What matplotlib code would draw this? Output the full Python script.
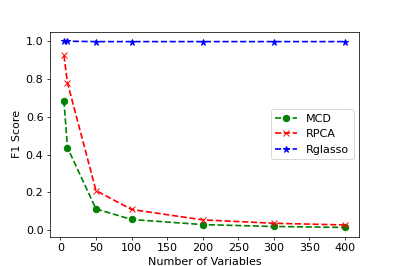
import matplotlib
matplotlib.use("Agg")
import matplotlib.pyplot as plt

plt.rcParams['font.size'] = 12

n_vars = [5, 10, 50, 100, 200, 300, 400]
mcd = [0.685, 0.437, 0.113, 0.057, 0.030, 0.020, 0.015]
rpca = [0.925, 0.780, 0.210, 0.110, 0.055, 0.037, 0.028]
rglasso = [1.0, 1.0, 0.998, 0.998, 0.998, 0.998, 0.998]

fig, ax = plt.subplots(figsize=(6, 4), dpi=66.5)
ax.plot(n_vars, mcd, 'go--', label='MCD', lw=1.8, ms=7)
ax.plot(n_vars, rpca, 'rx--', label='RPCA', lw=1.8, ms=7)
ax.plot(n_vars, rglasso, 'b*--', label='Rglasso', lw=1.8, ms=7)
ax.set_xlabel('Number of Variables')
ax.set_ylabel('F1 Score')
ax.legend(loc='center right')
fig.savefig('out.png')
